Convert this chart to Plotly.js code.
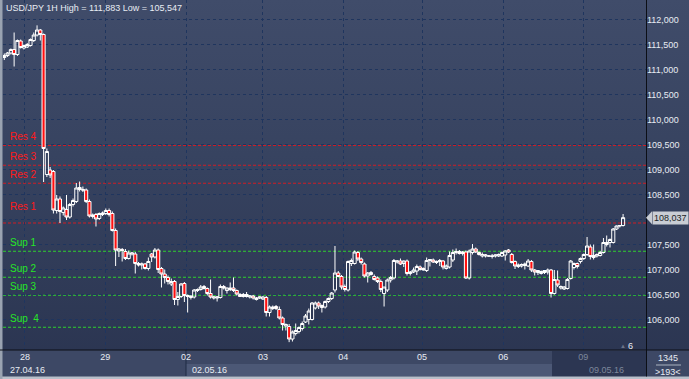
<!DOCTYPE html>
<html>
<head>
<meta charset="utf-8">
<script src="https://cdn.plot.ly/plotly-3.0.1.min.js"></script>
<style>
html,body{margin:0;padding:0;overflow:hidden;background:#2b3550;}
#chart{width:689px;height:379px;background:linear-gradient(to bottom,#404c6a 0%,#36425f 45%,#2a3450 100%);}
</style>
</head>
<body>
<div id="chart"></div>
<script>
// ---- data (USD/JPY 1H candles, 27.04.16 evening -> 09.05.16) ----
const openP = [
111.24,111.28,111.33,111.40,111.30,111.57,111.43,111.45,111.48,111.58,
111.69,111.79,111.70,108.90,108.99,108.96,108.18,108.41,108.14,108.20,
108.05,108.30,108.36,108.60,108.60,108.59,108.36,108.06,108.10,108.02,
108.10,108.12,108.18,108.12,107.78,107.37,107.40,107.36,107.22,107.31,
107.31,107.12,107.09,107.11,107.02,107.31,107.25,107.39,107.02,106.91,
106.84,106.71,106.76,106.40,106.46,106.72,106.48,106.44,106.45,106.58,
106.60,106.66,106.62,106.52,106.43,106.43,106.44,106.66,106.58,106.60,
106.63,106.58,106.50,106.46,106.50,106.45,106.47,106.40,106.43,106.41,
106.44,106.14,106.22,106.26,106.20,106.03,105.87,105.86,105.61,105.72,
105.76,105.82,105.95,106.00,106.00,106.23,106.33,106.24,106.25,106.36,
106.42,106.59,106.93,106.86,106.66,106.59,107.12,107.12,107.34,107.21,
107.11,106.87,106.94,106.86,106.83,106.76,106.52,106.59,106.79,106.83,
107.15,107.17,107.12,107.17,106.92,106.95,106.97,107.05,107.02,106.98,
107.18,107.19,107.14,107.16,107.17,107.02,107.05,107.19,107.34,107.36,
107.32,107.35,106.83,107.34,107.41,107.34,107.27,107.27,107.27,107.26,
107.27,107.27,107.27,107.29,107.39,107.30,107.16,107.06,107.07,107.08,
107.07,107.16,106.99,106.94,106.92,106.94,106.95,106.99,106.52,106.79,
106.63,106.61,106.62,106.82,107.04,107.12,107.16,107.22,107.30,107.45,
107.24,107.27,107.28,107.34,107.50,107.54,107.54,107.81,107.87,107.88];
const highP = [
111.32,111.35,111.42,111.74,111.60,111.60,111.50,111.53,111.62,111.74,
111.883,111.81,111.72,109.42,109.05,108.99,108.49,108.46,108.26,108.49,
108.33,108.42,108.73,108.76,108.66,108.62,108.40,108.12,108.13,108.14,
108.16,108.22,108.22,108.16,107.82,107.43,107.43,107.41,107.38,107.35,
107.35,107.15,107.14,107.13,107.24,107.33,107.43,107.42,107.05,107.00,
106.88,106.82,106.79,106.55,106.73,106.75,106.50,106.48,106.61,106.62,
106.69,106.69,106.64,106.80,106.47,106.47,106.70,106.69,106.64,106.74,
106.84,106.60,106.53,106.53,106.55,106.49,106.49,106.45,106.46,106.47,
106.47,106.28,106.28,106.29,106.26,106.06,105.92,105.91,105.78,105.92,
105.86,105.96,106.11,106.22,106.35,106.36,106.36,106.30,106.38,106.44,
106.55,107.47,106.97,106.89,106.70,107.18,107.22,107.38,107.37,107.24,
107.14,106.95,106.97,106.90,106.86,106.80,106.65,106.82,106.87,107.21,
107.19,107.22,107.18,107.20,106.97,107.04,107.10,107.08,107.04,107.24,
107.21,107.22,107.18,107.21,107.19,107.10,107.36,107.40,107.42,107.39,
107.37,107.38,107.40,107.51,107.44,107.36,107.34,107.31,107.29,107.31,
107.30,107.32,107.36,107.39,107.41,107.33,107.18,107.12,107.12,107.14,
107.21,107.19,107.01,106.99,106.98,106.99,107.02,107.01,106.99,106.98,
106.68,106.67,106.83,107.19,107.14,107.14,107.24,107.32,107.65,107.50,
107.50,107.32,107.37,107.63,107.68,107.62,107.83,107.88,107.89,108.11];
const lowP = [
111.19,111.25,111.30,111.06,111.27,111.42,111.40,111.43,111.46,111.55,
111.66,111.58,108.75,108.85,108.83,108.12,108.12,107.93,108.08,107.99,
108.02,108.26,108.33,108.56,108.55,108.33,108.04,108.02,107.86,107.99,
108.07,108.09,108.06,107.76,107.07,107.25,107.16,107.19,107.20,107.28,
106.92,107.06,107.00,107.00,106.98,107.15,107.22,106.93,106.64,106.72,
106.70,106.67,106.29,106.28,106.43,106.35,106.14,106.40,106.42,106.55,
106.58,106.60,106.48,106.42,106.40,106.36,106.42,106.60,106.52,106.57,
106.55,106.48,106.45,106.44,106.44,106.42,106.40,106.38,106.41,106.39,
106.06,106.06,106.19,106.19,106.00,105.78,105.78,105.547,105.56,105.68,
105.72,105.78,105.93,105.90,105.98,106.20,106.21,106.14,106.22,106.33,
106.39,106.54,106.85,106.60,106.56,106.56,107.07,107.10,107.17,107.10,
106.84,106.74,106.88,106.78,106.73,106.55,106.26,106.55,106.74,106.80,
107.12,107.09,107.05,106.88,106.88,106.93,106.89,106.98,106.98,106.95,
107.06,107.13,107.11,107.07,107.00,107.00,107.02,107.15,107.30,107.30,
107.28,106.81,106.80,107.30,107.33,107.28,107.24,107.24,107.25,107.22,
107.24,107.25,107.25,107.18,107.33,107.12,107.01,107.03,107.04,107.00,
107.05,106.95,106.88,106.89,106.90,106.91,106.90,106.44,106.50,106.65,
106.60,106.59,106.60,106.80,107.00,107.02,107.12,107.19,107.27,107.20,
107.20,107.24,107.26,107.32,107.46,107.44,107.52,107.79,107.84,107.86];
const closeP = [
111.28,111.33,111.40,111.30,111.58,111.44,111.48,111.50,111.60,111.69,
111.79,111.70,109.42,109.36,108.89,108.19,108.41,108.16,108.23,108.05,
108.30,108.38,108.63,108.64,108.59,108.36,108.07,108.09,108.01,108.12,
108.13,108.18,108.10,107.78,107.39,107.41,107.38,107.22,107.33,107.33,
107.12,107.09,107.11,107.02,107.16,107.25,107.39,107.00,106.91,106.84,
106.76,106.76,106.40,106.46,106.71,106.48,106.46,106.47,106.59,106.60,
106.65,106.62,106.52,106.45,106.45,106.45,106.66,106.63,106.63,106.63,
106.58,106.51,106.46,106.50,106.46,106.47,106.43,106.43,106.45,106.45,
106.14,106.25,106.25,106.22,106.03,105.90,105.90,105.61,105.75,105.78,
105.84,105.92,106.07,106.17,106.33,106.33,106.27,106.28,106.36,106.42,
106.53,106.93,106.86,106.65,106.60,107.16,107.18,107.35,107.21,107.14,
106.87,106.93,106.90,106.80,106.76,106.60,106.65,106.79,106.84,107.18,
107.17,107.11,107.17,106.92,106.95,106.99,107.06,107.00,106.99,107.18,
107.20,107.15,107.16,107.18,107.05,107.07,107.28,107.34,107.36,107.32,
107.35,106.83,107.37,107.41,107.35,107.30,107.30,107.29,107.27,107.27,
107.29,107.30,107.34,107.37,107.35,107.14,107.07,107.09,107.10,107.11,
107.17,106.99,106.95,106.98,106.96,106.98,106.99,106.52,106.80,106.69,
106.66,106.65,106.80,107.17,107.12,107.06,107.22,107.30,107.47,107.26,
107.28,107.30,107.34,107.54,107.54,107.60,107.81,107.87,107.88,108.037];

// day labels and the candle index where each day starts
const dayLabels = ["28","29","02","03","04","05","06","09"];
const dayStart  = [7.3, 31.8, 56.5, 80, 104.5, 128.6, 153.4, 177.8];
const dateLabels = ["27.04.16","02.05.16","09.05.16"];

// price axis levels (108,000 label is covered by the last-price tag)
const priceTicks = [106, 106.5, 107, 107.5, 108, 108.5, 109, 109.5, 110, 110.5, 111, 111.5, 112];
const priceTickText = ["106,000","106,500","107,000","107,500","","108,500","109,000","109,500","110,000","110,500","111,000","111,500","112,000"];

// support / resistance levels
const levelNames  = ["Res 4","Res 3","Res 2","Res 1","Sup 1","Sup 2","Sup 3","Sup  4"];
const levelValues = [109.48, 109.085, 108.725, 107.93, 107.365, 106.845, 106.485, 105.845];

const titleText = "USD/JPY 1H High = 111,883 Low = 105,547";
const lastPrice = "108,037";
const lastValue = 108.037;
const barsTotal = "1345";
const barsShown = "193";
const scrollCount = "6";

// ---- build ----
const idx = openP.map((_, i) => i + 1);

const FONT = "Liberation Sans, Arial, sans-serif";
const levelShift = [9, 8.6, 8.3, 17, 8.3, 8.3, 8.6, 8.3]; // label offset above line (px)

const trace = {
  type: "candlestick",
  x: idx, open: openP, high: highP, low: lowP, close: closeP,
  increasing: {line: {color: "#ffffff", width: 1}, fillcolor: "rgba(0,0,0,0)"},
  decreasing: {line: {color: "#ffffff", width: 1}, fillcolor: "#ff1010"},
  whiskerwidth: 0,
  hoverinfo: "skip",
  showlegend: false
};

const PW = 643, PH = 350; // plot area size in px
const px = v => (v - 3) / PW;           // page x px -> paper x
const py = v => (PH - v) / PH;          // page y px -> paper y

const shapes = [];
const annotations = [];

// bottom band & borders
shapes.push({type:"rect", xref:"paper", yref:"paper", x0:px(0), x1:px(689), y0:py(377), y1:py(350), fillcolor:"#3d4865", line:{width:0}, layer:"below"});
shapes.push({type:"rect", xref:"paper", yref:"paper", x0:px(186), x1:px(552), y0:py(376), y1:py(364), fillcolor:"#4c5876", line:{width:0}, layer:"below"});
shapes.push({type:"line", xref:"paper", yref:"paper", x0:px(186), x1:px(186), y0:py(376), y1:py(350), line:{color:"#1e2a44", width:1}, layer:"below"});
shapes.push({type:"rect", xref:"paper", yref:"paper", x0:px(552), x1:px(646), y0:py(377), y1:py(351), fillcolor:"#2c3652", line:{width:0}, layer:"below"});
shapes.push({type:"rect", xref:"paper", yref:"paper", x0:px(0), x1:px(689), y0:py(379), y1:py(376.5), fillcolor:"#b8bfca", line:{width:0}, layer:"above"});
shapes.push({type:"rect", xref:"paper", yref:"paper", x0:px(0), x1:px(2.5), y0:py(379), y1:py(0), fillcolor:"#9aa3b1", line:{width:0}, layer:"above"});
shapes.push({type:"line", xref:"paper", yref:"paper", x0:px(0), x1:px(689), y0:py(350), y1:py(350), line:{color:"#0c0f16", width:1}, layer:"above"});
shapes.push({type:"line", xref:"paper", yref:"paper", x0:px(646.5), x1:px(646.5), y0:py(376.5), y1:py(0), line:{color:"#0c0f16", width:1}, layer:"above"});
shapes.push({type:"line", xref:"paper", yref:"paper", x0:px(656), x1:px(681), y0:py(365), y1:py(365), line:{color:"#aab2c0", width:1}, layer:"above"});

// support / resistance lines and labels
levelNames.forEach((name, k) => {
  const isRes = name.indexOf("Res") === 0;
  const col = isRes ? "#d01c24" : "#2fcf2f";
  shapes.push({type:"line", xref:"paper", yref:"y", x0:0, x1:1, y0:levelValues[k], y1:levelValues[k],
    line:{color: col, width:1, dash:"3px,2px"}, layer:"between"});
  annotations.push({xref:"paper", yref:"y", x:px(8), y:levelValues[k], xanchor:"left", yanchor:"middle",
    yshift: levelShift[k], text:name, showarrow:false, font:{family:FONT, size:10, color: isRes ? "#ff1a1a" : "#27e627"}});
});

// title
annotations.push({xref:"paper", yref:"paper", x:px(4), y:py(8), xanchor:"left", yanchor:"middle",
  text:titleText, showarrow:false, font:{family:FONT, size:9, color:"#e8ecf3"}});

// date row
const dateX = [8, 190, 587];
const dateCol = ["#e8ecf3", "#e8ecf3", "#7d879b"];
dateLabels.forEach((t, k) => {
  annotations.push({xref:"paper", yref:"paper", x:px(dateX[k]), y:py(370), xanchor:"left", yanchor:"middle",
    text:t, showarrow:false, font:{family:FONT, size:9, color:dateCol[k]}});
});

// scroll count
annotations.push({xref:"paper", yref:"paper", x:px(630), y:py(345.5), xanchor:"center", yanchor:"middle",
  text:scrollCount, showarrow:false, font:{family:FONT, size:9, color:"#e8ecf3"}});
annotations.push({xref:"paper", yref:"paper", x:px(622.5), y:py(345.5), xanchor:"center", yanchor:"middle",
  text:"\u25B2", showarrow:false, font:{family:FONT, size:6, color:"#6b7488"}});

// bar counters
annotations.push({xref:"paper", yref:"paper", x:px(668), y:py(357.5), xanchor:"center", yanchor:"middle",
  text:barsTotal, showarrow:false, font:{family:FONT, size:9, color:"#e8ecf3"}});
annotations.push({xref:"paper", yref:"paper", x:px(668), y:py(372), xanchor:"center", yanchor:"middle",
  text:"&gt;" + barsShown + "&lt;", showarrow:false, font:{family:FONT, size:9, color:"#e8ecf3"}});

// last price tag
shapes.push({type:"path", xref:"paper", yref:"y",
  path:"M " + px(646) + "," + lastValue + " L " + px(652) + "," + (lastValue + 0.13) + " L " + px(652) + "," + (lastValue - 0.13) + " Z",
  fillcolor:"#c9cdd4", line:{width:0}, layer:"above"});
annotations.push({xref:"paper", yref:"y", x:px(651.5), y:lastValue, xanchor:"left", yanchor:"middle",
  text:lastPrice, showarrow:false, bgcolor:"#c9cdd4", borderpad:1,
  font:{family:FONT, size:9, color:"#1c1f26"}});

const tickText = dayLabels.map((d, k) => k === dayLabels.length - 1 ? '<span style="color:#7d879b">' + d + '</span>' : d);

const layout = {
  width: 689, height: 379,
  margin: {l:3, r:43, t:0, b:29, pad:0},
  paper_bgcolor: "rgba(0,0,0,0)",
  plot_bgcolor: "rgba(0,0,0,0)",
  separators: ", ",
  boxgap: 0.05,
  boxgroupgap: 0,
  font: {family: FONT, size: 9, color: "#e8ecf3"},
  xaxis: {
    range: [0.6, 197.0], type: "linear",
    tickvals: dayStart, ticktext: tickText,
    showgrid: true, gridcolor: "#1f355e", griddash: "3px,3px", gridwidth: 1,
    zeroline: false, showline: false, ticks: "",
    tickfont: {family: FONT, size: 9, color: "#e8ecf3"},
    rangeslider: {visible: false}, fixedrange: true
  },
  yaxis: {
    range: [105.39, 112.39], side: "right",
    tickvals: priceTicks, ticktext: priceTickText,
    showgrid: true, gridcolor: "#1f355e", griddash: "3px,3px", gridwidth: 1,
    zeroline: false, showline: false, ticks: "",
    tickfont: {family: FONT, size: 9, color: "#e8ecf3"}, fixedrange: true
  },
  shapes: shapes,
  annotations: annotations,
  showlegend: false
};

Plotly.newPlot("chart", [trace], layout, {staticPlot: true, displayModeBar: false});
</script>
</body>
</html>
